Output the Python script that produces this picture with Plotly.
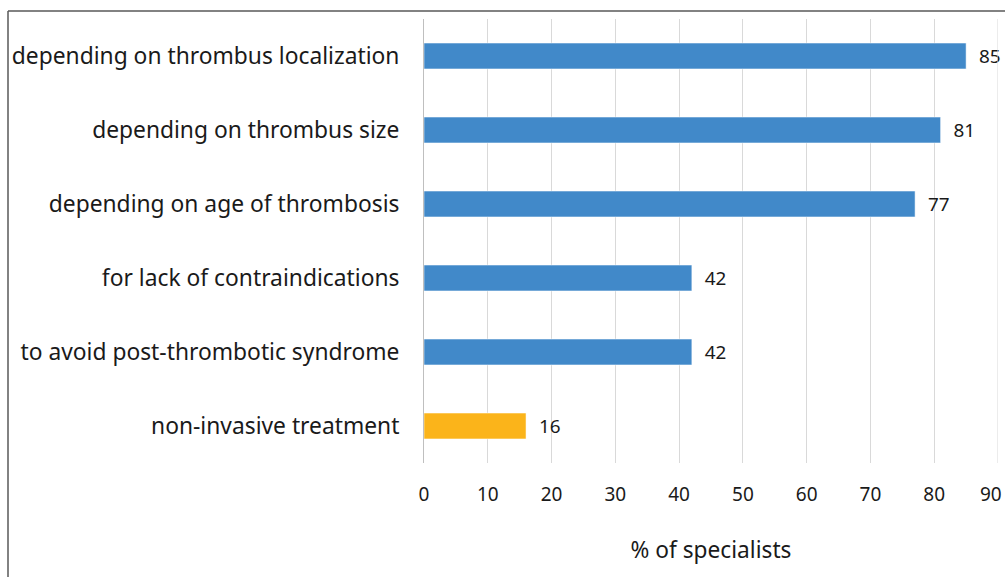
import plotly.graph_objects as go

categories = [
    "depending on thrombus localization",
    "depending on thrombus size",
    "depending on age of thrombosis",
    "for lack of contraindications",
    "to avoid post-thrombotic syndrome",
    "non-invasive treatment",
]
values = [85, 81, 77, 42, 42, 16]
colors = ["#4189C9", "#4189C9", "#4189C9", "#4189C9", "#4189C9", "#FBB41A"]
x_ticks = [0, 10, 20, 30, 40, 50, 60, 70, 80, 90]

W, H = 1005, 577
L, R, T, B = 424, 7, 19, 114
pw = W - L - R
ph = H - T - B

def px_x(p):
    return (p - L) / pw

def px_y(p):
    return (H - B - p) / ph

fig = go.Figure()
fig.add_trace(go.Bar(
    y=categories, x=values, orientation="h",
    marker=dict(color=colors, line=dict(color="rgba(255,255,255,0.5)", width=1)),
    text=[str(v) for v in values], texttemplate="  %{text}", textposition="outside",
    textfont=dict(size=19, color="#1a1a1a", family="Noto Sans"),
    cliponaxis=False,
))

# the last tick label sits at the page edge, so it is drawn as an annotation
inner_ticks = x_ticks[:-1]
last_tick = x_ticks[-1]

fig.update_layout(
    width=W, height=H,
    margin=dict(l=L, r=R, t=T, b=B, autoexpand=False),
    paper_bgcolor="white", plot_bgcolor="white",
    bargap=0.65,
    showlegend=False,
    font=dict(family="Noto Sans", color="#1a1a1a"),
    xaxis=dict(
        range=[0, 90], tickvals=inner_ticks, ticktext=[str(t) for t in inner_ticks],
        showgrid=True, gridcolor="#D9D9D9", gridwidth=1,
        zeroline=False, showline=False, automargin=False,
        ticks="outside", ticklen=14, tickcolor="rgba(0,0,0,0)",
        tickfont=dict(size=19),
        title=dict(text="% of specialists", font=dict(size=22.7), standoff=36),
    ),
    yaxis=dict(
        categoryorder="array", categoryarray=categories[::-1],
        showgrid=False, zeroline=False, automargin=False,
        showline=True, linecolor="#BFBFBF", linewidth=1,
        ticks="outside", ticklen=19, tickcolor="rgba(0,0,0,0)",
        tickfont=dict(size=22.8),
    ),
)

fig.add_annotation(x=px_x(1004), xref="paper", y=px_y(494), yref="paper",
                   text=str(last_tick), showarrow=False,
                   xanchor="right", yanchor="middle",
                   font=dict(size=19, color="#1a1a1a"))

# gridline at the right edge of the plot area
fig.add_shape(type="line", xref="x", yref="paper",
              x0=last_tick, x1=last_tick, y0=0, y1=1,
              line=dict(color="#D9D9D9", width=1))

# outer chart frame (left and top edges visible)
fig.add_shape(type="line", xref="paper", yref="paper",
              x0=px_x(8), x1=px_x(8), y0=px_y(11), y1=px_y(600),
              line=dict(color="#595959", width=1.5))
fig.add_shape(type="line", xref="paper", yref="paper",
              x0=px_x(8), x1=px_x(1010), y0=px_y(11), y1=px_y(11),
              line=dict(color="#595959", width=1.5))

fig.write_html(
    "out.html",
    config={"displayModeBar": False},
    post_script="document.body.style.margin='0';document.body.style.overflow='hidden';",
)
